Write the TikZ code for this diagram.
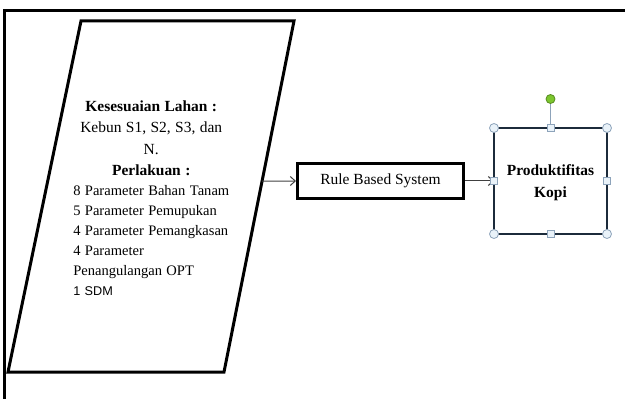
\documentclass[tikz,border=0pt]{standalone}
\usepackage{fontspec}
\setmainfont{Liberation Serif}
\newfontfamily\sdmfont{Liberation Sans}
\usetikzlibrary{arrows.meta,calc}

\definecolor{kotakbiru}{HTML}{1C2B3B}
\definecolor{handlegaris}{HTML}{8DA3BA}
\definecolor{handleisi}{HTML}{E9F2F9}
\definecolor{hijau}{HTML}{7CC62E}

\begin{document}
\begin{tikzpicture}[x=0.75pt, y=-0.75pt,
    panah/.style={-{Straight Barb[length=3.75pt,width=6.75pt]}, draw=black!75, line width=0.75pt},
    sudut/.style={circle, draw=handlegaris, fill=handleisi, line width=0.6pt, inner sep=0, minimum size=6.75pt},
    sisi/.style={rectangle, draw=handlegaris, fill=handleisi, line width=0.6pt, inner sep=0, minimum size=5.25pt}]
    \useasboundingbox (0,0) rectangle (625,399);

    % Frame
    \draw[line width=2.25pt] (4,399) -- (4,10.5) -- (625,10.5);

    % Input
    \draw[line width=2.25pt] (81,21) -- (294,21) -- (224,372) -- (8,372) -- cycle;
    \coordinate (keluar) at ($(294,21)!0.456!(224,372)$);
    \node[anchor=north west, inner sep=0, text width=117pt] (lahan) at (73,100.5) {%
        {\fontsize{11.6}{16}\selectfont\centering
        \textbf{Kesesuaian Lahan :}\\Kebun S1, S2, S3, dan\\N.\\\textbf{Perlakuan :}\par}
        {\fontsize{10.9}{15}\selectfont\hsize=160pt\raggedright
        8 Parameter Bahan Tanam\\5 Parameter Pemupukan\\4 Parameter Pemangkasan\\
        4 Parameter\\Penangulangan OPT\\{\sdmfont\fontsize{9.5}{15}\selectfont 1 SDM}\par}};

    % Process
    \node[draw, line width=2.25pt, minimum width=124.5pt, minimum height=26.25pt,
        font=\fontsize{11.6}{14}\selectfont] (rule) at (380.5,181) {Rule Based System};
    \node[draw=kotakbiru, line width=1.9pt, outer sep=0, minimum width=84.75pt, minimum height=79.5pt,
        align=center, text depth=0pt, font=\bfseries\fontsize{11.6}{16.5}\selectfont] (prod) at (550.5,181) {Produktifitas\\Kopi};
    \draw[panah] (keluar) -- (rule.west);
    \draw[panah] (rule) -- (prod);

    % Selection handles
    \node[circle, draw=hijau!70!black, fill=hijau, line width=0.6pt, inner sep=0, minimum size=6.75pt] (putar) at (550.5,99) {};
    \foreach \a/\n in {north west/nw, north east/ne, south west/sw, south east/se}
        \node[sudut] (h-\n) at (prod.\a) {};
    \foreach \a/\n in {north/n, south/s, west/w, east/e}
        \node[sisi] (h-\n) at (prod.\a) {};
    \draw[handlegaris, line width=0.75pt] (putar) -- (h-n);
\end{tikzpicture}
\end{document}
